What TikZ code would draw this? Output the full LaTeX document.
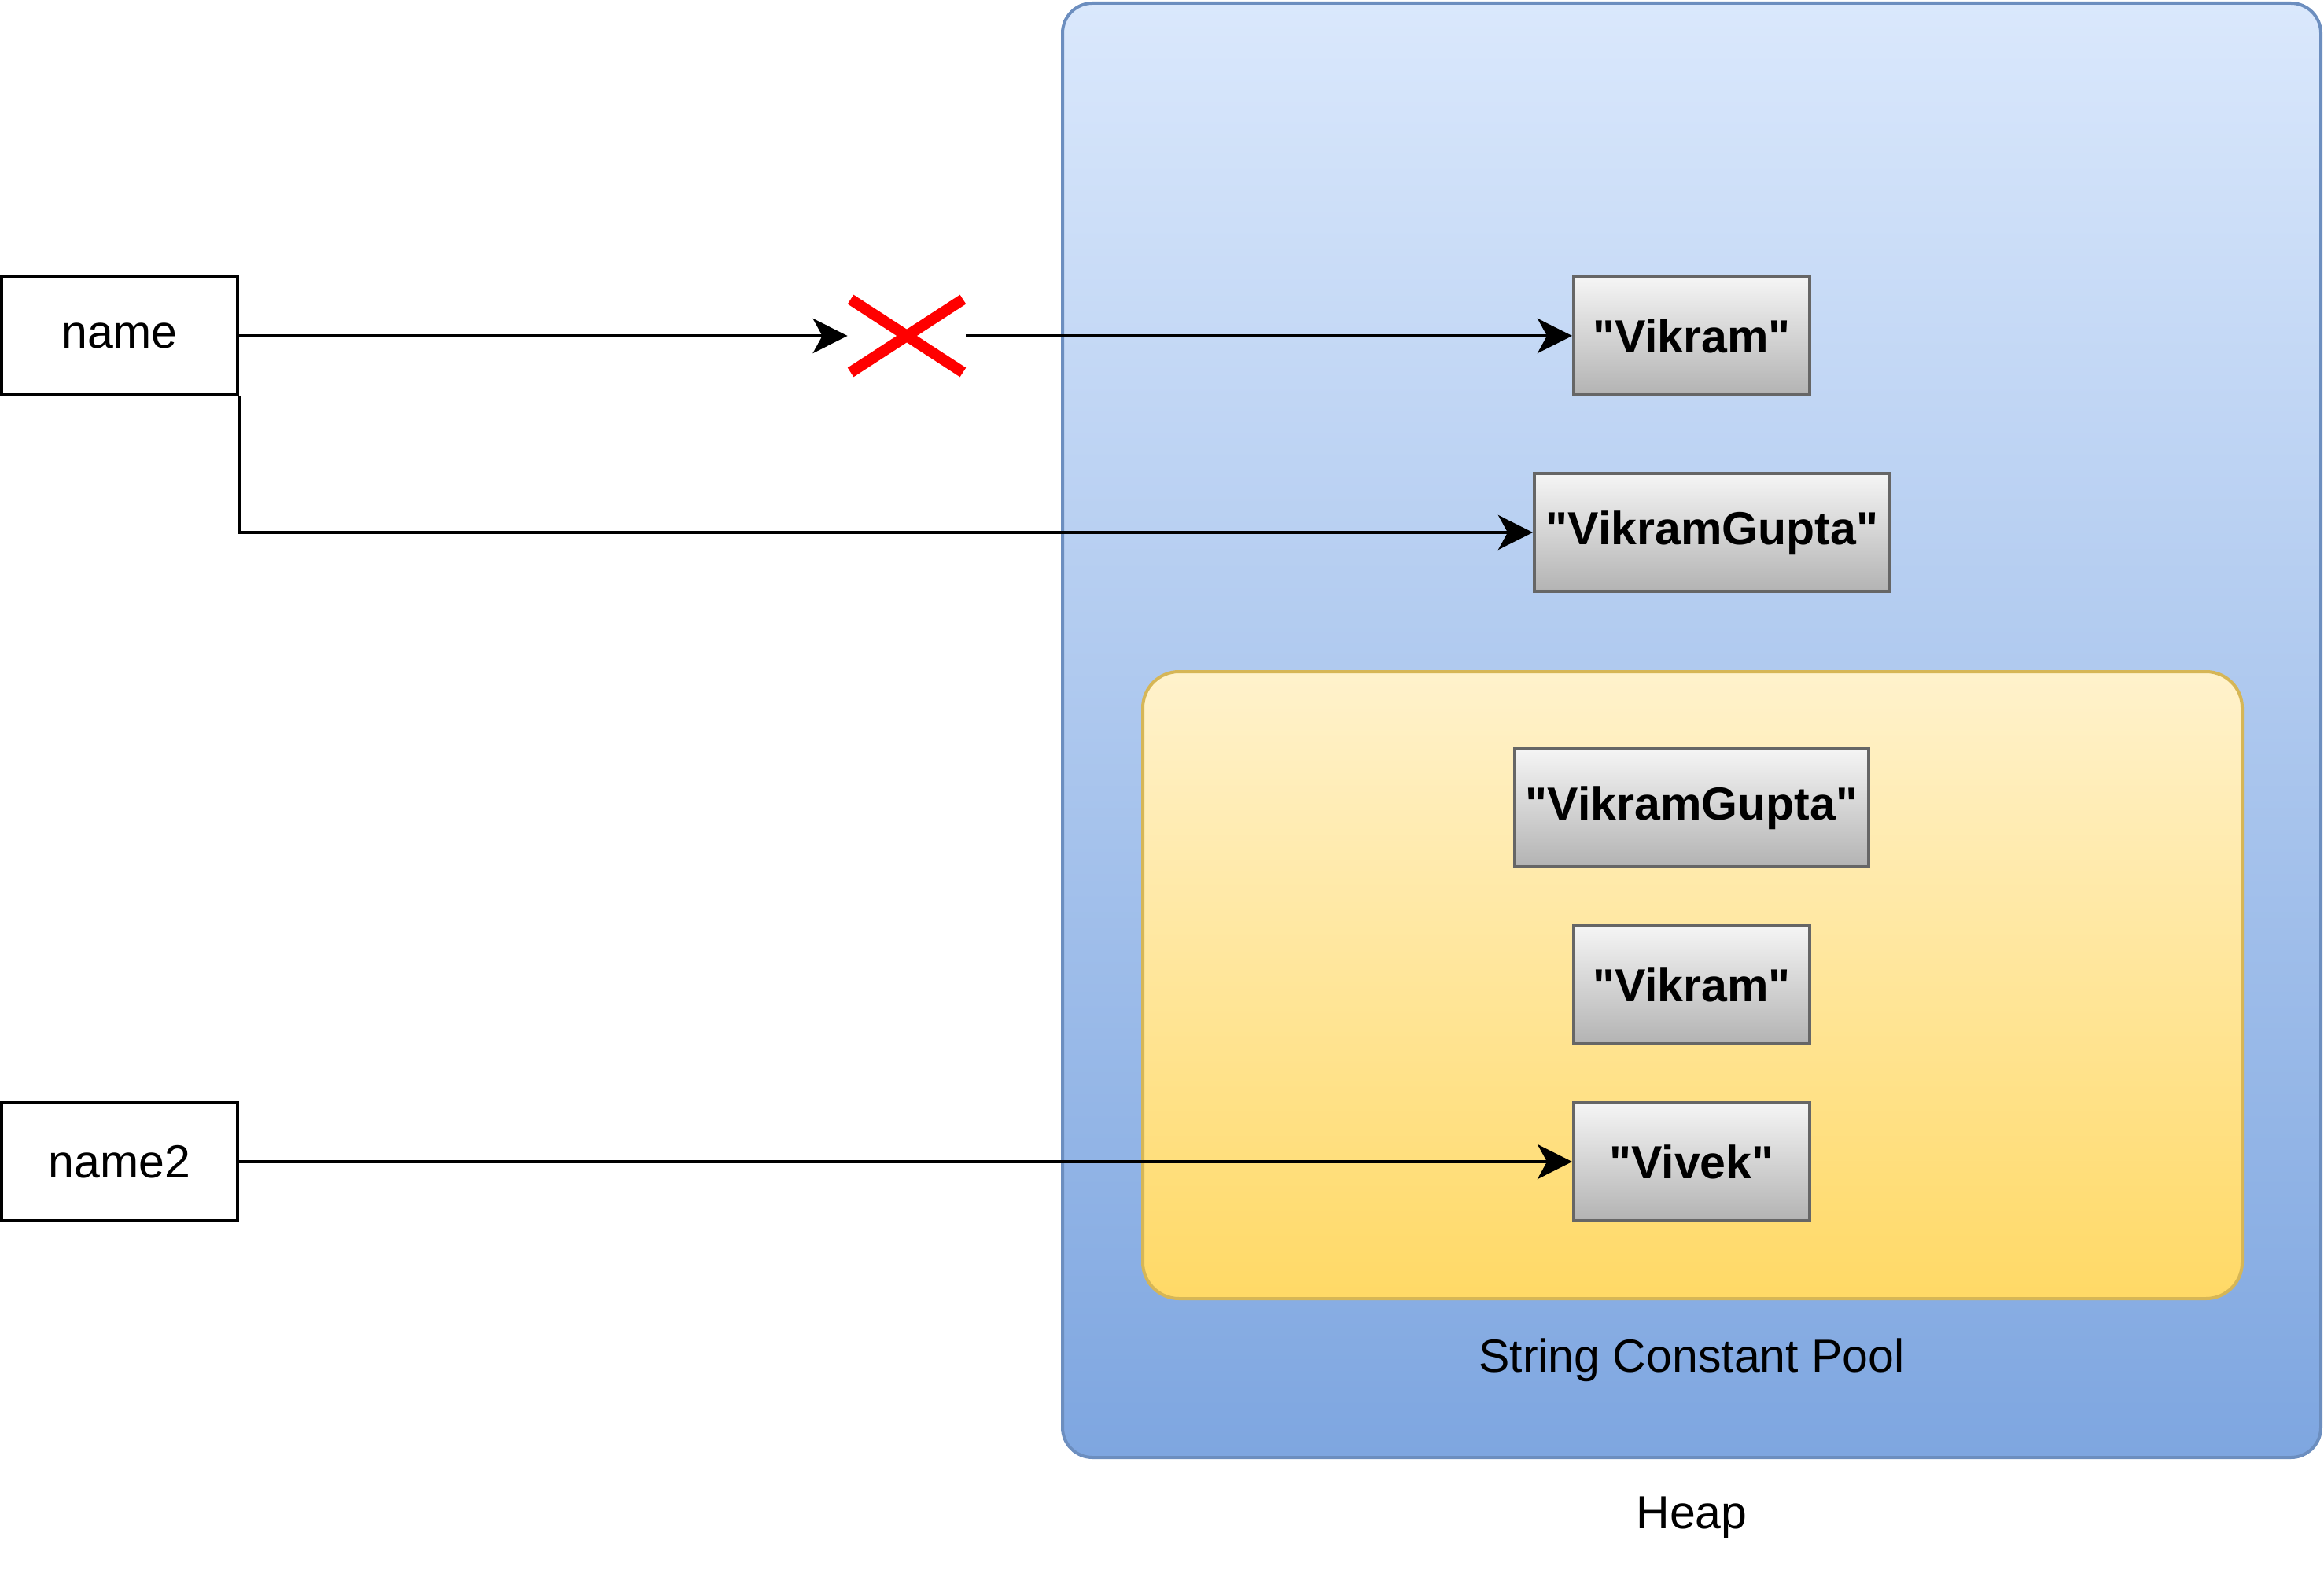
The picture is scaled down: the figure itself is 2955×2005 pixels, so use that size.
\documentclass[tikz,border=0pt]{standalone}
\usepackage{fontspec}
\setmainfont{Liberation Sans}[Ligatures=TeXOff]
\usetikzlibrary{arrows.meta}
\definecolor{heapTop}{HTML}{DAE8FC}
\definecolor{heapBot}{HTML}{7EA6E0}
\definecolor{heapLine}{HTML}{6C8EBF}
\definecolor{poolTop}{HTML}{FFF2CC}
\definecolor{poolBot}{HTML}{FFD966}
\definecolor{poolLine}{HTML}{D6B656}
\definecolor{strTop}{HTML}{F5F5F5}
\definecolor{strBot}{HTML}{B3B3B3}
\definecolor{strLine}{HTML}{666666}
\tikzset{
  every node/.style={font=\fontsize{29.5}{35}\selectfont, inner sep=0pt},
  heapbox/.style={draw=heapLine, line width=2pt, rounded corners=19pt, top color=heapTop, bottom color=heapBot, minimum width=800pt, minimum height=924.5pt},
  poolbox/.style={draw=poolLine, line width=2pt, rounded corners=23pt, top color=poolTop, bottom color=poolBot, minimum width=699pt, minimum height=398.5pt},
  strbox/.style={draw=strLine, line width=2pt, top color=strTop, bottom color=strBot, minimum height=75pt, font=\fontsize{29.5}{35}\selectfont\bfseries},
  varbox/.style={draw=black, line width=2pt, fill=white, minimum width=150pt, minimum height=75pt},
  ref/.style={line width=2.2pt, -{Stealth[length=22pt, width=22pt, inset=6pt]}},
  xarm/.style={draw=red, line width=7pt},
  lbl/.style={text=black}
}
\begin{document}
\begin{tikzpicture}[x=0.5pt, y=-0.5pt]
\useasboundingbox (0,0) rectangle (2955,2005);
% containers
\node[heapbox] (heap) at (2151,928.5) {};
\node[poolbox] (pool) at (2152,1252.5) {};
\node[lbl] (heaplbl) at (2151,1929) {Heap};
\node[lbl] (poollbl) at (2151,1729) {String Constant Pool};
% string objects
\node[strbox, minimum width=150pt] (vik1) at (2151,427) {"Vikram"};
\node[strbox, minimum width=226pt] (vg1) at (2177,677) {"VikramGupta"};
\node[strbox, minimum width=225pt] (vg2) at (2151,1027) {"VikramGupta"};
\node[strbox, minimum width=150pt] (vik2) at (2151,1252) {"Vikram"};
\node[strbox, minimum width=150pt] (viv) at (2151,1477) {"Vivek"};
% variables
\node[varbox] (name) at (152,427) {name};
\node[varbox] (name2) at (152,1477) {name2};
% red cross
\node[minimum width=75pt, minimum height=50pt] (rx) at (1153,427) {};
\draw[xarm] ([xshift=2pt,yshift=-2pt]rx.north west) -- ([xshift=-2pt,yshift=2pt]rx.south east);
\draw[xarm] ([xshift=-2pt,yshift=-2pt]rx.north east) -- ([xshift=2pt,yshift=2pt]rx.south west);
% connectors
\draw[ref] (name.east) -- (rx.west);
\draw[ref] (rx.east) -- (vik1.west);
\draw[ref] (name.south east) |- (vg1.west);
\draw[ref] (name2.east) -- (viv.west);
\end{tikzpicture}
\end{document}
